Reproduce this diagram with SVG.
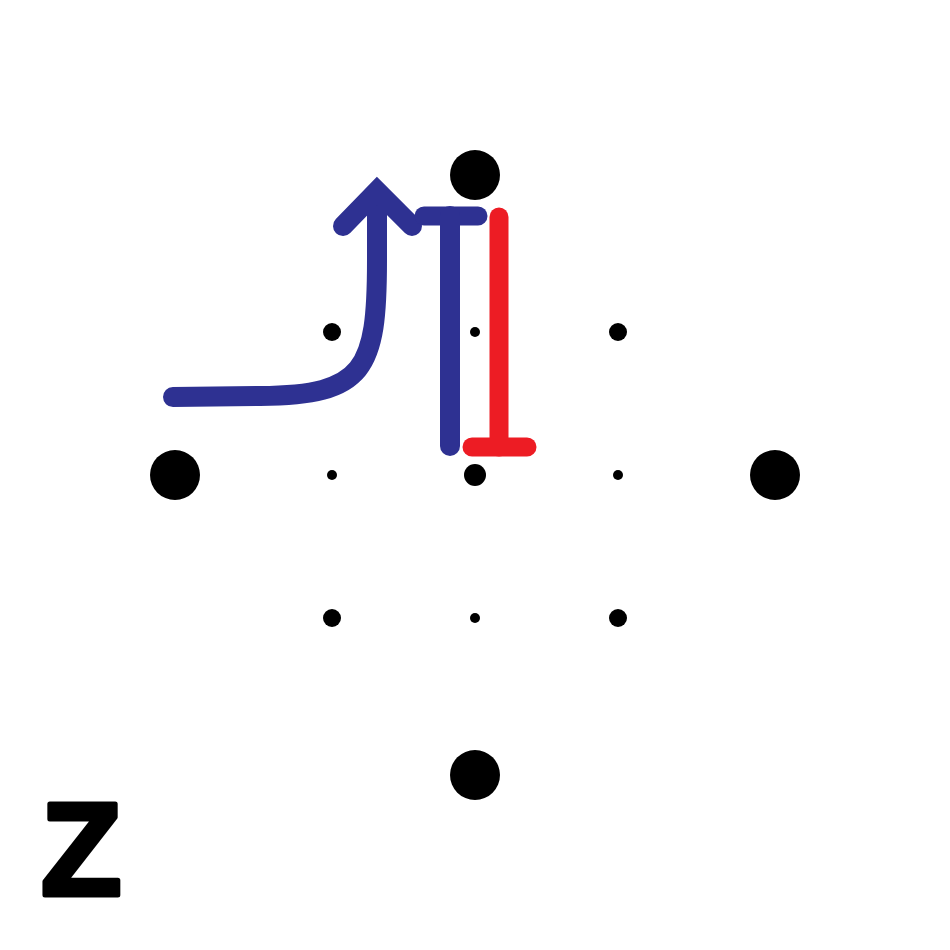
<svg xmlns="http://www.w3.org/2000/svg" width="950" height="950" viewBox="0 0 950 950">
<style>
.big{fill:#000}
.blue{fill:none;stroke:#2e3192;stroke-width:20;stroke-linecap:round}
.red{fill:none;stroke:#ed1c24;stroke-width:19;stroke-linecap:round}
</style>
<rect width="950" height="950" fill="#fff"/>
<g id="dots">
<circle cx="475" cy="175" r="25" class="big"/>
<circle cx="175" cy="475" r="25" class="big"/>
<circle cx="775" cy="475" r="25" class="big"/>
<circle cx="475" cy="775" r="25" class="big"/>
<circle cx="475" cy="475" r="11" class="big"/>
<circle cx="332" cy="332" r="9" class="big"/>
<circle cx="618" cy="332" r="9" class="big"/>
<circle cx="332" cy="618" r="9" class="big"/>
<circle cx="618" cy="618" r="9" class="big"/>
<circle cx="475" cy="332" r="5" class="big"/>
<circle cx="332" cy="475" r="5" class="big"/>
<circle cx="618" cy="475" r="5" class="big"/>
<circle cx="475" cy="618" r="5" class="big"/>
</g>
<g id="connectors">
<path class="blue" d="M173,397 L260,396 C365,395 377,370 377,260 L377,195"/>
<path class="blue" d="M343,226 L377,191 L412,226" stroke-linejoin="miter" stroke-miterlimit="10"/>
<path class="blue" d="M424,216 L478,216" style="stroke-width:19"/>
<path class="blue" d="M450,216 L450,446"/>
<path class="red" d="M499,217 L499,447"/>
<path class="red" d="M472,447 L527,447"/>
</g>
<text x="41" y="895" font-family="Liberation Sans, Arial, sans-serif" font-weight="bold" font-size="132" fill="#000" stroke="#000" stroke-width="5" stroke-linejoin="round">Z</text>
</svg>
